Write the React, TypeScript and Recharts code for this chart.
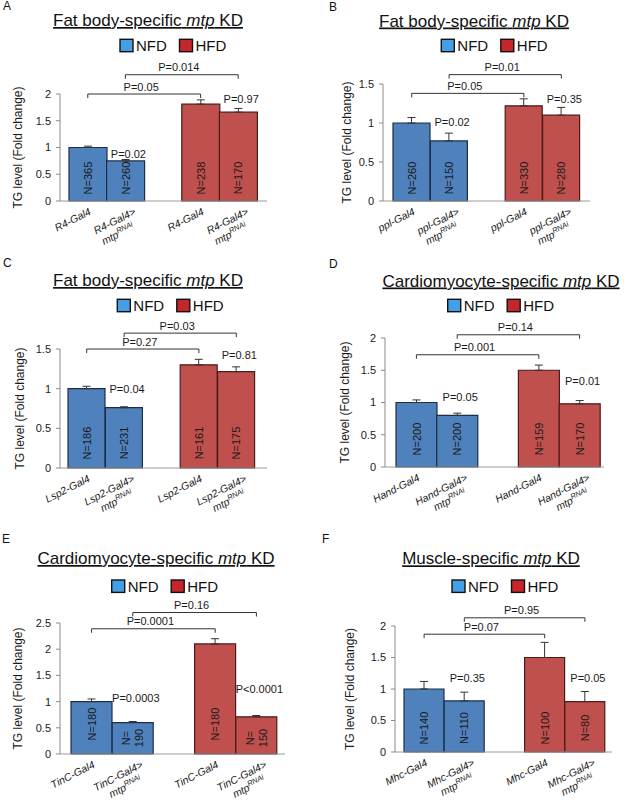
import React from "react";
import {
  Bar,
  BarChart,
  Cell,
  ErrorBar,
  LabelList,
  ReferenceDot,
  ReferenceLine,
  XAxis,
  YAxis,
} from "recharts";

// slot 2 is the empty gap between the NFD pair and the HFD pair
const SLOTS = ["0", "1", "2", "3", "4"];
const DIETS = ["NFD", "NFD", "", "HFD", "HFD"];

const FILL: Record<string, string> = { NFD: "#4f81bd", HFD: "#c0504d" };
const EDGE: Record<string, string> = { NFD: "#1d2d48", HFD: "#4a1b19" };
const KEY_FILL: Record<string, string> = { NFD: "#44a0e6", HFD: "#c4262c" };

// A
const A_GENO = ["R4-Gal4", "R4-Gal4>", "", "R4-Gal4", "R4-Gal4>"];
const A_MEAN = [1.0, 0.75, null, 1.81, 1.66];
const A_SEM = [0.025, 0.025, null, 0.08, 0.07];
const A_N = ["N=365", "N=260", "", "N=238", "N=170"];
const A_BR_P = ["P=0.05", "P=0.014"];
const A_BR_Y = [2.0, 2.36];
const A_KD_P = ["P=0.02", "P=0.97"];
const A_KD_Y = [0.88, 1.91];

// B
const B_GENO = ["ppl-Gal4", "ppl-Gal4>", "", "ppl-Gal4", "ppl-Gal4>"];
const B_MEAN = [1.0, 0.77, null, 1.22, 1.1];
const B_SEM = [0.07, 0.1, null, 0.09, 0.1];
const B_N = ["N=260", "N=150", "", "N=330", "N=280"];
const B_BR_P = ["P=0.05", "P=0.01"];
const B_BR_Y = [1.38, 1.62];
const B_KD_P = ["P=0.02", "P=0.35"];
const B_KD_Y = [1.01, 1.31];

// C
const C_GENO = ["Lsp2-Gal4", "Lsp2-Gal4>", "", "Lsp2-Gal4", "Lsp2-Gal4>"];
const C_MEAN = [1.0, 0.76, null, 1.3, 1.215];
const C_SEM = [0.03, 0.012, null, 0.07, 0.06];
const C_N = ["N=186", "N=231", "", "N=161", "N=175"];
const C_BR_P = ["P=0.27", "P=0.03"];
const C_BR_Y = [1.5, 1.7];
const C_KD_P = ["P=0.04", "P=0.81"];
const C_KD_Y = [0.99, 1.43];

// D
const D_GENO = ["Hand-Gal4", "Hand-Gal4>", "", "Hand-Gal4", "Hand-Gal4>"];
const D_MEAN = [1.0, 0.8, null, 1.5, 0.98];
const D_SEM = [0.04, 0.035, null, 0.08, 0.05];
const D_N = ["N=200", "N=200", "", "N=159", "N=170"];
const D_BR_P = ["P=0.001", "P=0.14"];
const D_BR_Y = [1.74, 2.05];
const D_KD_P = ["P=0.05", "P=0.01"];
const D_KD_Y = [1.085, 1.335];

// E
const E_GENO = ["TinC-Gal4", "TinC-Gal4>", "", "TinC-Gal4", "TinC-Gal4>"];
const E_MEAN = [1.0, 0.6, null, 2.1, 0.71];
const E_SEM = [0.05, 0.02, null, 0.1, 0.025];
const E_N = ["N=180", "N=\n190", "", "N=180", "N=\n150"];
const E_BR_P = ["P=0.0001", "P=0.16"];
const E_BR_Y = [2.39, 2.7];
const E_KD_P = ["P=0.0003", "P<0.0001"];
const E_KD_Y = [1.06, 1.24];

// F
const F_GENO = ["Mhc-Gal4", "Mhc-Gal4>", "", "Mhc-Gal4", "Mhc-Gal4>"];
const F_MEAN = [1.0, 0.81, null, 1.5, 0.8];
const F_SEM = [0.12, 0.14, null, 0.24, 0.16];
const F_N = ["N=140", "N=110", "", "N=100", "N=80"];
const F_BR_P = ["P=0.07", "P=0.95"];
const F_BR_Y = [1.87, 2.13];
const F_KD_P = ["P=0.35", "P=0.05"];
const F_KD_Y = [1.17, 1.18];

const TICKS_2 = [0, 0.5, 1, 1.5, 2];
const TICKS_15 = [0, 0.5, 1, 1.5];
const TICKS_25 = [0, 0.5, 1, 1.5, 2, 2.5];

const W = 317;
const X_AXIS_H = 50;
const INK = "#1a1a1a";
const TILT = -27;

type Layout = {
  x: number;
  y: number;
  h: number;
  plotL: number;
  plotR: number;
  plotT: number;
  plotB: number;
  padL: number;
  padR: number;
  yLabX: number;
  nLift: number;
  nLift2: number;
};

const LAY_A: Layout = { x: 0, y: 0, h: 270, plotL: 60, plotR: 267, plotT: 94, plotB: 201, padL: 9, padR: 10, yLabX: 18, nLift: 23, nLift2: 16 };
const LAY_B: Layout = { x: 317, y: 0, h: 270, plotL: 66, plotR: 273, plotT: 84, plotB: 201, padL: 10, padR: 10, yLabX: 30, nLift: 23, nLift2: 16 };
const LAY_C: Layout = { x: 0, y: 270, h: 270, plotL: 60, plotR: 267, plotT: 79, plotB: 198, padL: 8, padR: 12, yLabX: 20, nLift: 25, nLift2: 16 };
const LAY_D: Layout = { x: 317, y: 270, h: 270, plotL: 68, plotR: 287, plotT: 68, plotB: 197, padL: 11, padR: 4, yLabX: 28, nLift: 28, nLift2: 16 };
const LAY_E: Layout = { x: 0, y: 540, h: 272, plotL: 60, plotR: 285, plotT: 83, plotB: 214, padL: 11, padR: 8, yLabX: 18, nLift: 30, nLift2: 16 };
const LAY_F: Layout = { x: 317, y: 540, h: 272, plotL: 78, plotR: 295, plotT: 86, plotB: 212, padL: 9, padR: 7, yLabX: 33, nLift: 24, nLift2: 16 };

function GenoTick(props: any) {
  const { x, y, payload, geno } = props;
  const lab: string = geno[Number(payload.value)];
  if (!lab) return null;
  const kd = lab.endsWith(">");
  const ax = x + (kd ? 11 : 4);
  const ay = y + 13;
  return (
    <g>
      <text
        x={ax}
        y={ay}
        transform={`rotate(${TILT} ${ax} ${ay})`}
        textAnchor="end"
        fontStyle="italic"
        fontSize={10.5}
        fill={INK}
      >
        {lab}
      </text>
      {kd && (
        <text
          x={ax - 8}
          y={ay + 13}
          transform={`rotate(${TILT} ${ax} ${ay})`}
          textAnchor="end"
          fontStyle="italic"
          fontSize={10.5}
          fill={INK}
        >
          mtp
          <tspan fontSize={7.5} dy={-4}>
            RNAi
          </tspan>
        </text>
      )}
    </g>
  );
}

function NLabel(props: any) {
  const { value, lift, lift2 } = props;
  if (!value) return null;
  const vb = props.viewBox || props;
  const cx = vb.x + vb.width / 2;
  const base = vb.y + vb.height;
  const lines = String(value).split("\n");
  const cy = base - (lines.length > 1 ? lift2 : lift);
  return (
    <g transform={`rotate(-90 ${cx} ${cy})`}>
      {lines.map((t, i) => (
        <text
          key={i}
          x={cx}
          y={cy + (i - (lines.length - 1) / 2) * 13}
          textAnchor="middle"
          dominantBaseline="central"
          fontSize={11}
          fill={INK}
        >
          {t}
        </text>
      ))}
    </g>
  );
}

function Bracket(props: any) {
  const { x1, y1, x2, text } = props;
  return (
    <g>
      <path d={`M${x1},${y1 + 4}V${y1}H${x2}V${y1 + 4}`} stroke="#333" fill="none" strokeWidth={1} />
      <text
        x={(x1 + x2) / 2 - 3}
        y={y1 - 7.5}
        textAnchor="middle"
        dominantBaseline="central"
        fontSize={11}
        fill={INK}
      >
        {text}
      </text>
    </g>
  );
}

type PanelProps = {
  lay: Layout;
  geno: string[];
  mean: (number | null)[];
  sem: (number | null)[];
  n: string[];
  brP: string[];
  brY: number[];
  kdP: string[];
  kdY: number[];
  yMax: number;
  yTicks: number[];
};

function Panel({ lay, geno, mean, sem, n, brP, brY, kdP, kdY, yMax, yTicks }: PanelProps) {
  const rows = SLOTS.map((s, i) => ({
    slot: s,
    diet: DIETS[i],
    mean: mean[i],
    err: sem[i] == null ? null : [0, sem[i]],
    n: n[i],
  }));
  return (
    <div style={{ position: "absolute", left: lay.x, top: lay.y }}>
      <BarChart
        width={W}
        height={lay.h}
        data={rows}
        barCategoryGap={0}
        barGap={0}
        margin={{ top: lay.plotT, right: W - lay.plotR, bottom: lay.h - lay.plotB - X_AXIS_H, left: 0 }}
      >
        <XAxis
          dataKey="slot"
          type="category"
          interval={0}
          height={X_AXIS_H}
          tickLine={false}
          tickSize={0}
          tickMargin={0}
          axisLine={{ stroke: "#9a9a9a" }}
          padding={{ left: lay.padL, right: lay.padR }}
          tick={(p: any) => <GenoTick {...p} geno={geno} />}
        />
        <YAxis
          width={lay.plotL}
          domain={[0, yMax]}
          ticks={yTicks}
          interval={0}
          tickSize={4}
          tickMargin={5}
          axisLine={{ stroke: "#8a8a8a" }}
          tickLine={{ stroke: "#8a8a8a" }}
          tick={{ fill: INK, fontSize: 11 }}
          label={{
            value: "TG level (Fold change)",
            angle: -90,
            position: "insideLeft",
            offset: lay.yLabX,
            style: { textAnchor: "middle", fontSize: 12, fill: INK },
          }}
        />
        <Bar dataKey="mean" isAnimationActive={false} strokeWidth={1.2}>
          {rows.map((r, i) => (
            <Cell key={i} fill={FILL[r.diet] ?? "none"} stroke={EDGE[r.diet] ?? "none"} />
          ))}
          <ErrorBar dataKey="err" width={4} stroke="#333" strokeWidth={1} direction="y" />
          <LabelList dataKey="n" content={(p: any) => <NLabel {...p} lift={lay.nLift} lift2={lay.nLift2} />} />
        </Bar>
        <ReferenceLine
          segment={[{ x: "0", y: brY[0] }, { x: "3", y: brY[0] }]}
          ifOverflow="visible"
          shape={(p: any) => <Bracket {...p} text={brP[0]} />}
        />
        <ReferenceLine
          segment={[{ x: "1", y: brY[1] }, { x: "4", y: brY[1] }]}
          ifOverflow="visible"
          shape={(p: any) => <Bracket {...p} text={brP[1]} />}
        />
        {["1", "4"].map((s, i) => (
          <ReferenceDot
            key={s}
            x={s}
            y={kdY[i]}
            ifOverflow="visible"
            shape={(p: any) => (
              <text
                x={p.cx + 3}
                y={p.cy}
                textAnchor="middle"
                dominantBaseline="central"
                fontSize={11}
                fill={INK}
              >
                {kdP[i]}
              </text>
            )}
          />
        ))}
      </BarChart>
    </div>
  );
}

const TITLES = [
  { lead: "Fat body-specific", x: 148, y: 26 },
  { lead: "Fat body-specific", x: 474, y: 26.5 },
  { lead: "Fat body-specific", x: 148, y: 286 },
  { lead: "Cardiomyocyte-specific", x: 501, y: 286.5 },
  { lead: "Cardiomyocyte-specific", x: 156, y: 564 },
  { lead: "Muscle-specific", x: 491, y: 564.3 },
];

const KEYS = [
  { x: 120, y: 39.3 },
  { x: 441.3, y: 39.3 },
  { x: 117.3, y: 299.3 },
  { x: 447.7, y: 299.3 },
  { x: 111.7, y: 580 },
  { x: 452, y: 580 },
];

const LETTERS = [
  { t: "A", x: 3, y: 10 },
  { t: "B", x: 329, y: 10.5 },
  { t: "C", x: 3, y: 267 },
  { t: "D", x: 329, y: 268 },
  { t: "E", x: 2, y: 543 },
  { t: "F", x: 322, y: 543 },
];

export default function App() {
  return (
    <div
      style={{
        position: "absolute",
        left: 0,
        top: 0,
        width: 634,
        height: 812,
        background: "#fff",
        fontFamily: "'Liberation Sans', Arial, sans-serif",
      }}
    >
      <Panel lay={LAY_A} geno={A_GENO} mean={A_MEAN} sem={A_SEM} n={A_N} brP={A_BR_P} brY={A_BR_Y} kdP={A_KD_P} kdY={A_KD_Y} yMax={2} yTicks={TICKS_2} />
      <Panel lay={LAY_B} geno={B_GENO} mean={B_MEAN} sem={B_SEM} n={B_N} brP={B_BR_P} brY={B_BR_Y} kdP={B_KD_P} kdY={B_KD_Y} yMax={1.5} yTicks={TICKS_15} />
      <Panel lay={LAY_C} geno={C_GENO} mean={C_MEAN} sem={C_SEM} n={C_N} brP={C_BR_P} brY={C_BR_Y} kdP={C_KD_P} kdY={C_KD_Y} yMax={1.5} yTicks={TICKS_15} />
      <Panel lay={LAY_D} geno={D_GENO} mean={D_MEAN} sem={D_SEM} n={D_N} brP={D_BR_P} brY={D_BR_Y} kdP={D_KD_P} kdY={D_KD_Y} yMax={2} yTicks={TICKS_2} />
      <Panel lay={LAY_E} geno={E_GENO} mean={E_MEAN} sem={E_SEM} n={E_N} brP={E_BR_P} brY={E_BR_Y} kdP={E_KD_P} kdY={E_KD_Y} yMax={2.5} yTicks={TICKS_25} />
      <Panel lay={LAY_F} geno={F_GENO} mean={F_MEAN} sem={F_SEM} n={F_N} brP={F_BR_P} brY={F_BR_Y} kdP={F_KD_P} kdY={F_KD_Y} yMax={2} yTicks={TICKS_2} />
      <svg
        width={634}
        height={812}
        style={{ position: "absolute", left: 0, top: 0, pointerEvents: "none" }}
      >
        {TITLES.map((t, i) => (
          <text key={i} x={t.x} y={t.y} textAnchor="middle" fontSize={17} fill="#111" textDecoration="underline">
            {t.lead} <tspan fontStyle="italic">mtp</tspan> KD
          </text>
        ))}
        {KEYS.map((k, i) => (
          <g key={i}>
            {["NFD", "HFD"].map((d, j) => (
              <g key={d}>
                <rect x={k.x + j * 59.5} y={k.y} width={13} height={12.4} fill={KEY_FILL[d]} stroke="#111" strokeWidth={1.4} />
                <text x={k.x + j * 59.5 + 16} y={k.y + 11.6} fontSize={15} fill="#111">
                  {d}
                </text>
              </g>
            ))}
          </g>
        ))}
        {LETTERS.map((l) => (
          <text key={l.t} x={l.x} y={l.y} fontSize={12} fill="#111">
            {l.t}
          </text>
        ))}
      </svg>
    </div>
  );
}
